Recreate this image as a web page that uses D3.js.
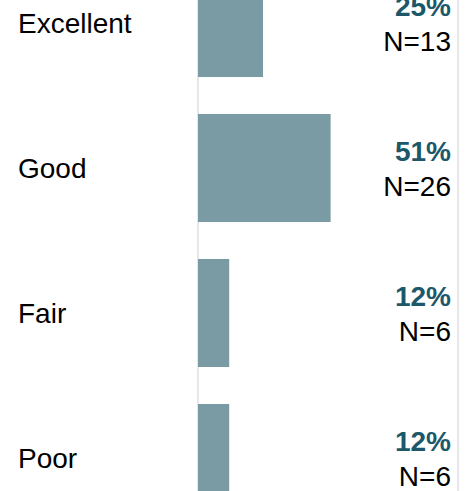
<!DOCTYPE html>
<html>
<head>
<meta charset="utf-8">
<script src="https://cdn.jsdelivr.net/npm/d3@7"></script>
<style>
  html, body { margin: 0; padding: 0; background: #fff; }
  svg { display: block; }
  text { font-family: Arial, "Liberation Sans", sans-serif; }
</style>
</head>
<body>
<div id="chart"></div>
<script>
// Survey rating distribution
const categories = ["Excellent", "Good", "Fair", "Poor"];
const percents = [25, 51, 12, 12];
const counts = [13, 26, 6, 6];

const width = 471, height = 491;
const barColor = "#7b9ba4";
const pctColor = "#1c5869";

const rows = categories.map((c, i) => ({ cat: c, pct: percents[i], n: counts[i] }));

const svg = d3.select("#chart").append("svg")
  .attr("width", width)
  .attr("height", height);

const x = d3.scaleLinear().domain([0, 100]).range([198, 458]);

const y = d3.scaleBand()
  .domain(categories)
  .range([-31, 512])
  .paddingInner(0.255)
  .paddingOuter(0);

// frame lines: axis at zero and right edge
svg.append("line")
  .attr("x1", x(0)).attr("x2", x(0))
  .attr("y1", 0).attr("y2", height)
  .attr("stroke", "#cfcfcf").attr("stroke-width", 1);
svg.append("line")
  .attr("x1", x(100)).attr("x2", x(100))
  .attr("y1", 0).attr("y2", height)
  .attr("stroke", "#cfcfcf").attr("stroke-width", 1);

// bars
svg.selectAll("rect.bar")
  .data(rows)
  .join("rect")
  .attr("class", "bar")
  .attr("x", x(0))
  .attr("y", d => y(d.cat))
  .attr("width", d => x(d.pct) - x(0))
  .attr("height", y.bandwidth())
  .attr("fill", barColor);

const mid = d => y(d.cat) + y.bandwidth() / 2;

// category labels
svg.selectAll("text.cat")
  .data(rows)
  .join("text")
  .attr("class", "cat")
  .attr("x", 18)
  .attr("y", d => mid(d) + 10)
  .attr("font-size", 28)
  .attr("fill", "#000")
  .text(d => d.cat);

// percentage labels
svg.selectAll("text.pct")
  .data(rows)
  .join("text")
  .attr("class", "pct")
  .attr("x", 451)
  .attr("y", d => mid(d) - 7)
  .attr("text-anchor", "end")
  .attr("font-size", 28)
  .attr("font-weight", "bold")
  .attr("fill", pctColor)
  .text(d => d.pct + "%");

// count labels
svg.selectAll("text.n")
  .data(rows)
  .join("text")
  .attr("class", "n")
  .attr("x", 451)
  .attr("y", d => mid(d) + 28)
  .attr("text-anchor", "end")
  .attr("font-size", 28)
  .attr("fill", "#000")
  .text(d => "N=" + d.n);
</script>
</body>
</html>
